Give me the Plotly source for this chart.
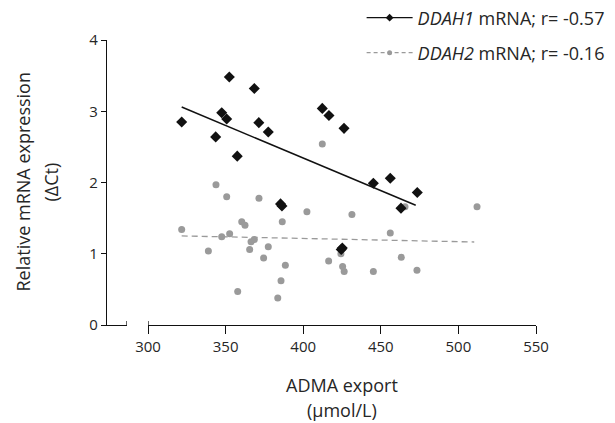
import plotly.graph_objects as go

# ADMA export (µmol/L) vs relative mRNA expression (ΔCt)
ddah1_x = [321.7, 343.6, 347.5, 350.7, 352.4, 357.5, 368.5, 371.4, 377.5, 385.4,
           386.3, 412.3, 416.6, 424.5, 425.2, 426.3, 445.2, 456.1, 463.0, 473.5]
ddah1_y = [2.85, 2.64, 2.98, 2.89, 3.48, 2.37, 3.32, 2.84, 2.71, 1.70,
           1.67, 3.04, 2.94, 1.06, 1.08, 2.76, 1.99, 2.06, 1.64, 1.86]

ddah2_x = [321.7, 338.9, 343.8, 347.5, 350.7, 352.6, 357.8, 360.4, 362.5, 365.5,
           366.4, 368.5, 371.5, 374.5, 377.5, 383.6, 385.7, 386.5, 388.5, 402.4,
           412.3, 416.4, 424.3, 425.4, 426.4, 431.4, 445.2, 456.1, 463.2, 465.6,
           473.3, 512.0]
ddah2_y = [1.34, 1.04, 1.97, 1.24, 1.80, 1.28, 0.47, 1.45, 1.40, 1.06,
           1.17, 1.20, 1.78, 0.94, 1.10, 0.38, 0.62, 1.45, 0.84, 1.59,
           2.54, 0.90, 1.00, 0.82, 0.75, 1.55, 0.75, 1.29, 0.95, 1.66,
           0.77, 1.66]

# linear fit end points
fit1_x = [321.7, 472.5]
fit1_y = [3.06, 1.68]
fit2_x = [321.7, 510.2]
fit2_y = [1.25, 1.165]

x_ticks = [300, 350, 400, 450, 500, 550]
y_ticks = [0, 1, 2, 3, 4]

legend1_name = "<i>DDAH1</i> mRNA; r= -0.57"
legend2_name = "<i>DDAH2</i> mRNA; r= -0.16"

BLACK = "#111111"
GREY = "#9a9a9a"
TEXT = "#262626"
FONT = "Open Sans"

fig = go.Figure()

# scatter points
fig.add_trace(go.Scatter(x=ddah2_x, y=ddah2_y, mode="markers", xaxis="x2",
                         marker=dict(symbol="circle", size=7, color=GREY),
                         showlegend=False, hoverinfo="x+y"))
fig.add_trace(go.Scatter(x=ddah1_x, y=ddah1_y, mode="markers", xaxis="x2",
                         marker=dict(symbol="diamond", size=8.5, color=BLACK),
                         showlegend=False, hoverinfo="x+y"))

# regression lines
fig.add_trace(go.Scatter(x=fit1_x, y=fit1_y, mode="lines", xaxis="x2",
                         line=dict(color=BLACK, width=1.5),
                         showlegend=False, hoverinfo="skip"))
fig.add_trace(go.Scatter(x=fit2_x, y=fit2_y, mode="lines", xaxis="x2",
                         line=dict(color=GREY, width=1.3, dash="6px,4px"),
                         showlegend=False, hoverinfo="skip"))

# legend entries
fig.add_trace(go.Scatter(x=[None], y=[None], mode="lines+markers", xaxis="x2",
                         name=legend1_name, legend="legend",
                         line=dict(color=BLACK, width=1.3),
                         marker=dict(symbol="diamond", size=6, color=BLACK)))
fig.add_trace(go.Scatter(x=[None], y=[None], mode="lines+markers", xaxis="x2",
                         name=legend2_name, legend="legend2",
                         line=dict(color=GREY, width=1.3, dash="4px,3px"),
                         marker=dict(symbol="circle", size=5, color=GREY)))

L, R, T, B = 107, 79, 40, 98
W, H = 615, 423
pw = W - L - R
main_start = 41 / pw
stub_end = 20 / pw

axis_common = dict(showline=True, linecolor=BLACK, linewidth=1.3, showgrid=False,
                   zeroline=False, tickcolor=BLACK, tickwidth=1.3,
                   tickfont=dict(family=FONT, size=15, color=TEXT))

legend_common = dict(xref="container", yref="container", xanchor="left",
                     yanchor="middle", bgcolor="rgba(0,0,0,0)", itemwidth=46,
                     font=dict(family=FONT, size=18, color=TEXT))

fig.update_layout(
    width=W, height=H,
    margin=dict(l=L, r=R, t=T, b=B, autoexpand=False),
    plot_bgcolor="white", paper_bgcolor="white",
    xaxis=dict(domain=[0, stub_end], range=[0, 1], showticklabels=False,
               ticks="", anchor="y", showline=True, linecolor=BLACK, linewidth=1.3,
               showgrid=False, zeroline=False),
    xaxis2=dict(domain=[main_start, 1], range=[300, 550], tickvals=x_ticks,
                ticks="outside", ticklen=8, anchor="y", **axis_common),
    yaxis=dict(domain=[0, 1], range=[0, 4], tickvals=y_ticks,
               ticks="outside", ticklen=5, **axis_common),
    legend=dict(x=0.588, y=1 - 18 / H, **legend_common),
    legend2=dict(x=0.588, y=1 - 53 / H, **legend_common),
    showlegend=True,
)

# axis break caps and the y-axis foot below the origin
for xref, xv, top in (("x", 1, 4), ("x2", 300, 4), ("x", 0, 0)):
    fig.add_shape(type="line", xref=xref, yref="y", x0=xv, x1=xv,
                  ysizemode="pixel", yanchor=0, y0=-7, y1=top,
                  line=dict(color=BLACK, width=1.3))

# axis titles
title_font = dict(family=FONT, size=18, color=TEXT)
fig.add_annotation(text="ADMA export", xref="x2 domain", yref="paper", x=0.5, y=0,
                   yanchor="middle", yshift=-60, showarrow=False, font=title_font)
fig.add_annotation(text="(\u03bcmol/L)", xref="x2 domain", yref="paper", x=0.5, y=0,
                   yanchor="middle", yshift=-85, showarrow=False, font=title_font)
fig.add_annotation(text="Relative mRNA expression", xref="paper", yref="paper",
                   x=0, y=0.5, xanchor="center", xshift=-85, textangle=-90,
                   showarrow=False, font=title_font)
fig.add_annotation(text="(\u0394Ct)", xref="paper", yref="paper",
                   x=0, y=0.5, xanchor="center", xshift=-57, textangle=-90,
                   showarrow=False, font=title_font)

fig.write_html("out.html")
